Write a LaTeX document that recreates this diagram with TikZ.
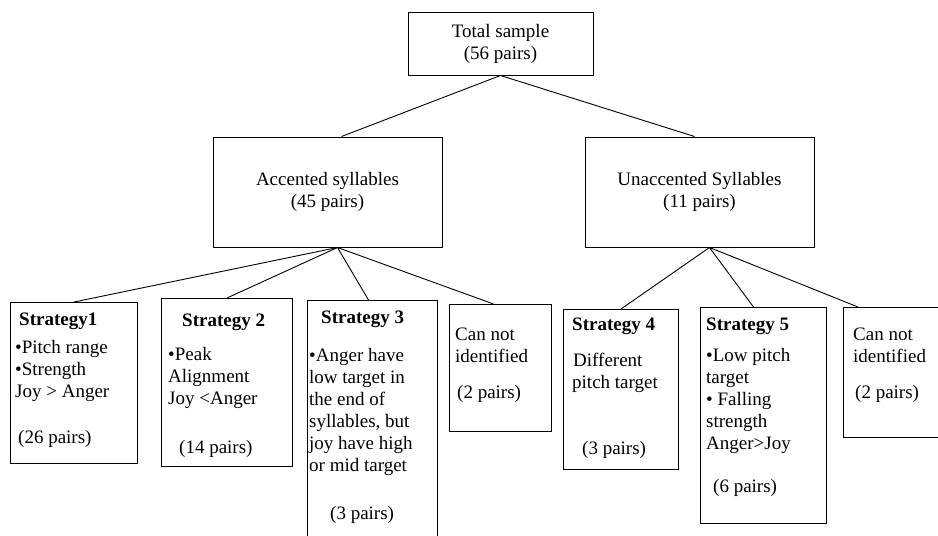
\documentclass[tikz,border=0pt]{standalone}
\usepackage{fontspec}
\setmainfont{Liberation Serif}
\usetikzlibrary{positioning, calc}

\begin{document}
\begin{tikzpicture}[x=1pt, y=-1pt,
    box/.style={draw, line width=1pt, inner sep=0pt, font=\fontsize{19}{22}\selectfont},
    leaftext/.style={anchor=north west, align=left, inner sep=0pt, font=\fontsize{19}{22}\selectfont},
    link/.style={line width=0.9pt}]

% Page frame (the last box runs off the right edge)
\clip (0,0) rectangle (938,536);

% Define leaf box macro
% Arguments: name, left, top, width, height, text x-offset, first baseline, text
\def\leafbox#1#2#3#4#5#6#7#8{
    \node[box, anchor=north west, minimum width=#4, minimum height=#5] (#1) at (#2,#3) {};
    \node[leaftext] (#1-text) at ([xshift=#6, yshift={14-#7}]#1.north west) {\rule{0pt}{14pt}#8};
}

% Root and the two syllable groups
\node[box, minimum width=185, minimum height=63, align=center] (total) at (500.5,43.5) {Total sample\\(56 pairs)};
\node[box, minimum width=229, minimum height=110, align=center] (acc) at (327.5,192) {Accented syllables\\(45 pairs)};
\node[box, minimum width=229, minimum height=110, align=center] (unacc) at (699.5,192) {Unaccented Syllables\\(11 pairs)};

% Strategies under accented syllables
\leafbox{s1}{10}{302}{127}{161}{5}{23}{\hspace{4pt}\textbf{Strategy1}\\[6pt]•Pitch range\\•Strength\\Joy > Anger\\[24pt]\hspace{3pt}(26 pairs)}
\leafbox{s2}{161}{298}{131}{168}{7}{28}{\hspace{14pt}\textbf{Strategy 2}\\[12pt]•Peak\\Alignment\\Joy <Anger\\[27pt]\hspace{11pt}(14 pairs)}
\leafbox{s3}{307}{300}{130}{250}{2}{23}{\hspace{12pt}\textbf{Strategy 3}\\[16pt]•Anger have\\low target in\\the end of\\syllables, but\\joy have high\\or mid target\\[26pt]\hspace{21pt}(3 pairs)}
\leafbox{cn1}{449}{304}{102}{127}{6}{36}{Can not\\identified\\[14pt]\hspace{2pt}(2 pairs)}

% Strategies under unaccented syllables
\leafbox{s4}{563}{309}{115}{160}{9}{21}{\textbf{Strategy 4}\\[14pt]\hspace{1pt}Different\\pitch target\\[44pt]\hspace{10pt}(3 pairs)}
\leafbox{s5}{700}{307}{126}{216}{6}{23}{\textbf{Strategy 5}\\[9pt]•Low pitch\\target\\• Falling\\strength\\Anger>Joy\\[21pt]\hspace{7pt}(6 pairs)}
\leafbox{cn2}{843}{307}{100}{130}{10}{33}{Can not\\identified\\[14pt]\hspace{2pt}(2 pairs)}

% Connectors
\draw[link] (total.south) -- ([xshift=14pt]acc.north);
\draw[link] (total.south) -- ([xshift=-5pt]unacc.north);

\draw[link] ([xshift=10pt]acc.south) -- (s1.north);
\draw[link] ([xshift=10pt]acc.south) -- (s2.north);
\draw[link] ([xshift=10pt]acc.south) -- ([xshift=-4pt]s3.north);
\draw[link] ([xshift=10pt]acc.south) -- ([xshift=-7pt]cn1.north);

\draw[link] ([xshift=10pt]unacc.south) -- (s4.north);
\draw[link] ([xshift=10pt]unacc.south) -- ([xshift=-10pt]s5.north);
\draw[link] ([xshift=10pt]unacc.south) -- ([xshift=15pt]cn2.north west);

\end{tikzpicture}
\end{document}
